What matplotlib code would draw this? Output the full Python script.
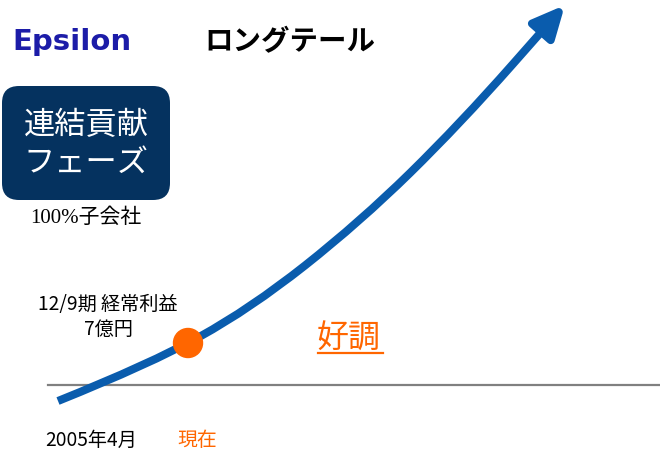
import matplotlib
matplotlib.use("Agg")
import matplotlib.pyplot as plt
from matplotlib.path import Path
from matplotlib.patches import FancyArrowPatch, FancyBboxPatch, Circle

plt.rcParams['font.family'] = ['Noto Sans CJK JP', 'DejaVu Sans']

# growth curve control points (pixel-like coordinates of the slide)
curve_x = [58, 150, 250, 360, 460, 565]
curve_y = [401, 364, 309, 222, 124, 5]
now_x, now_y = 188, 343
base_y = 385
base_x = [48, 660]

title = 'ロングテール'
phase_label = '連結貢献\nフェーズ'
sub_label = '100%子会社'
profit_label = '12/9期 経常利益\n7億円'
start_label = '2005年4月'
now_label = '現在'
good_label = '好調'

BLUE = '#0a5cad'
ORANGE = '#ff6600'
NAVY = '#05325f'

fig = plt.figure(figsize=(6.6, 4.54), dpi=100)
ax = fig.add_axes([0, 0, 1, 1])
ax.set_xlim(0, 660)
ax.set_ylim(454, 0)
ax.axis('off')

# baseline
ax.plot(base_x, [base_y, base_y], color='#808080', lw=1.6, zorder=1)

# smooth curve via quadratic beziers through midpoints
verts = [(curve_x[0], curve_y[0])]
codes = [Path.MOVETO]
for i in range(1, len(curve_x) - 1):
    mx = (curve_x[i] + curve_x[i + 1]) / 2
    my = (curve_y[i] + curve_y[i + 1]) / 2
    verts += [(curve_x[i], curve_y[i]), (mx, my)]
    codes += [Path.CURVE3, Path.CURVE3]
verts.append((curve_x[-1], curve_y[-1]))
codes.append(Path.LINETO)
arrow = FancyArrowPatch(path=Path(verts, codes),
                        arrowstyle='-|>,head_length=1.9,head_width=0.9',
                        mutation_scale=10, color=BLUE, lw=5.8,
                        capstyle='butt', zorder=2)
ax.add_patch(arrow)

ax.add_patch(Circle((now_x, now_y), 14.5, color=ORANGE, zorder=3))

# logo
ax.text(12, 42, 'Epsilon', color='#1c1ca8', fontsize=21, fontweight='bold',
        family='DejaVu Sans', va='center', ha='left')
ax.text(204, 42, title, fontsize=20.5, fontweight='bold', va='center', ha='left')

box = FancyBboxPatch((2, 86), 168, 114, boxstyle='round,pad=0,rounding_size=17',
                     fc=NAVY, ec='none', mutation_aspect=1)
ax.add_patch(box)
ax.text(86, 144, phase_label, color='white', fontsize=22.5, ha='center',
        va='center', linespacing=1.2)
ax.text(86, 218, sub_label, fontsize=15, ha='center', va='center',
        family=['Liberation Serif', 'Noto Sans CJK JP'])

ax.text(108, 317, profit_label, fontsize=13.8, ha='center', va='center',
        linespacing=1.3)
ax.text(45, 440, start_label, fontsize=13.8, ha='left', va='center')
ax.text(177, 440, now_label, fontsize=14.3, color=ORANGE, ha='left', va='center')

ax.text(317, 339, good_label, fontsize=23, color=ORANGE, ha='left', va='center')
ax.plot([318, 383], [353, 353], color=ORANGE, lw=1.6)

fig.savefig('out.png', dpi=100)
